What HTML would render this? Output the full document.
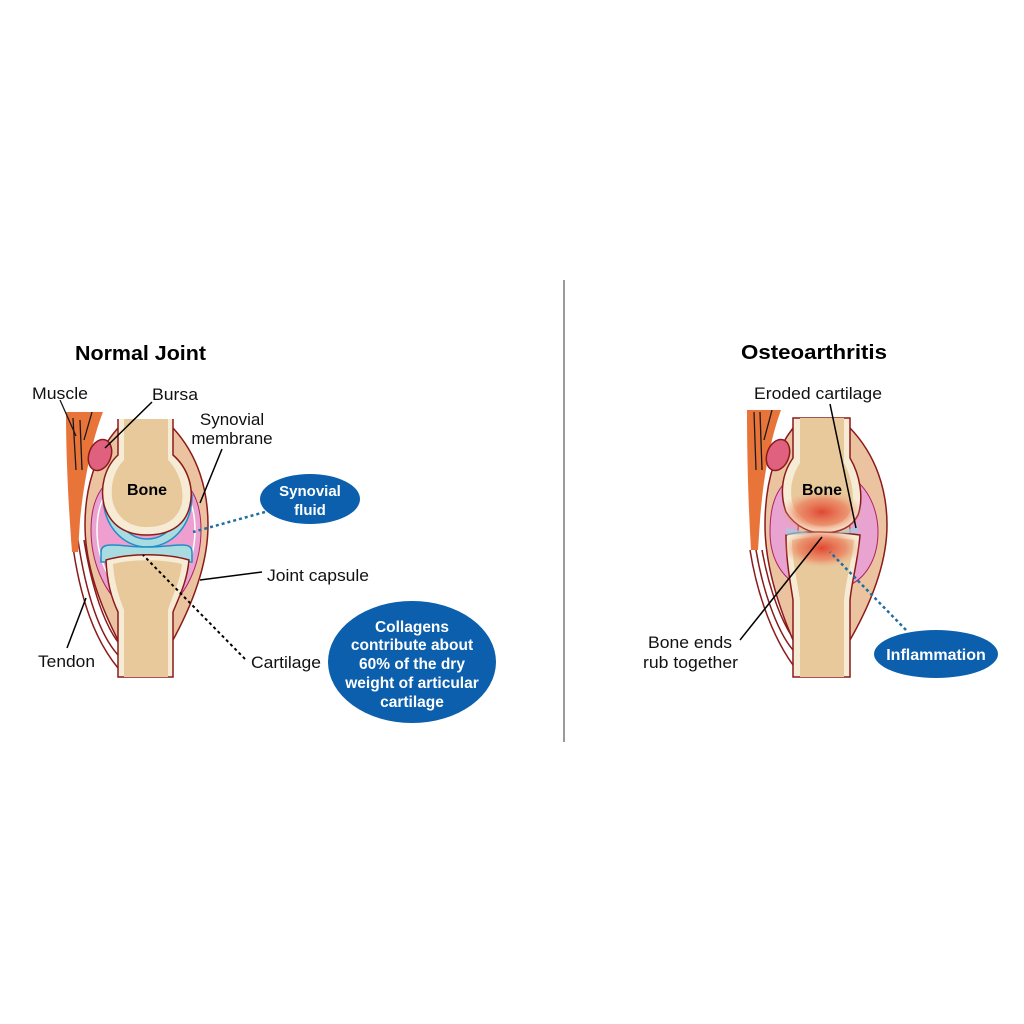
<!DOCTYPE html>
<html><head><meta charset="utf-8"><style>
html,body{margin:0;padding:0;background:#fff}
svg{display:block}
text{font-family:"Liberation Sans",Arial,sans-serif}
</style></head><body>
<svg width="1024" height="1024" viewBox="0 0 1024 1024">
<defs>
<radialGradient id="glow" cx="50%" cy="50%" r="50%">
<stop offset="0" stop-color="#e0402c" stop-opacity="0.95"/>
<stop offset="0.6" stop-color="#eb7a58" stop-opacity="0.7"/>
<stop offset="1" stop-color="#f2b48e" stop-opacity="0"/>
</radialGradient>
</defs>
<rect width="1024" height="1024" fill="#fff"/>
<line x1="564" y1="280" x2="564" y2="742" stroke="#9a9a9a" stroke-width="2"/>

<text x="75" y="360" font-size="20" font-weight="bold" textLength="131" lengthAdjust="spacingAndGlyphs">Normal Joint</text>
<text x="741" y="359" font-size="20" font-weight="bold" textLength="146" lengthAdjust="spacingAndGlyphs">Osteoarthritis</text>

<!-- LEFT JOINT -->
<g stroke="#8b1a1a" stroke-width="1.5">
<path d="M72 540 C80 600 95 640 118 668" fill="none"/>
<path d="M78 540 C86 595 100 635 118 655" fill="none"/>
<path d="M84 540 C92 590 105 625 118 642" fill="none"/>
<path d="M66 412 L103 412 C92 440 84 480 80 520 L78 552 L72 552 C68 500 66 450 66 412Z" fill="#e8743a" stroke="none"/>
<path d="M118 428 C94 455 85 490 85 525 C85 565 100 605 118 640 L173 640 C192 605 208 565 208 525 C208 490 198 455 173 428Z" fill="#ebc3a0"/>
<path d="M116 476 C98 486 91 505 91 530 C91 562 104 590 120 604 L172 604 C188 590 201 562 201 530 C201 505 194 486 176 476Z" fill="#e8a3d0" stroke="#b02060" stroke-width="1"/>
<path d="M117 483 C103 492 97 508 97 530 C97 557 108 580 122 594 L170 594 C184 580 195 557 195 530 C195 508 189 492 175 483Z" fill="#ee9fcf" stroke="#fff" stroke-width="1.5"/>
<path d="M103 495 C103 527 124 547 147 547 C171 547 192 527 192 495 L182 495 C182 522 166 539 147 539 C129 539 113 522 113 495Z" fill="#a8dce0" stroke="#1e8fc8" stroke-width="1.5"/>
<path d="M118 419 L118 455 C104 468 100 488 104 505 C110 525 125 535 147 535 C170 535 186 525 190 505 C194 488 188 468 173 455 L173 419Z" fill="#f6ecd6" stroke="none"/>
<path d="M118 419 L118 455 C104 468 100 488 104 505 C110 525 125 535 147 535 C170 535 186 525 190 505 C194 488 188 468 173 455 L173 419" fill="none"/>
<path d="M124 419 L124 460 C112 472 110 490 113 503 C118 519 130 527 147 527 C166 527 178 519 182 503 C184 490 180 472 168 460 L168 419Z" fill="#e8c99c" stroke="none"/>
<path d="M101 552 C101 540 120 547 147 547 C175 547 192 540 192 552 L192 562 L101 562Z" fill="#a8dce0" stroke="#1e8fc8" stroke-width="1.5"/>
<path d="M106 560 C130 553 165 553 189 560 C187 582 179 597 173 612 L173 677 L118 677 L118 612 C111 597 107 582 106 560Z" fill="#f6ecd6"/>
<path d="M113 564 C132 559 162 559 182 564 C180 582 172 597 168 610 L168 677 L124 677 L124 610 C119 597 114 582 113 564Z" fill="#e8c99c" stroke="none"/>
<ellipse cx="100" cy="455" rx="11" ry="16" transform="rotate(20 100 455)" fill="#e06080"/>
</g>
<g stroke="#1a1a1a" stroke-width="1.3" fill="none">
<path d="M60 400 L76 436"/><path d="M73 418 L76 470"/><path d="M80 420 L82 470"/><path d="M92 412 L84 440"/>
</g>
<text x="147" y="495" font-size="16" font-weight="bold" text-anchor="middle">Bone</text>

<g stroke="#000" stroke-width="1.5" fill="none">
<path d="M152 402 L105 448"/>
<path d="M222 449 L200 503"/>
<path d="M262 572 L200 580"/>
<path d="M67 648 L86 598"/>
</g>
<path d="M245 659 L143 555" stroke="#000" stroke-width="2" stroke-dasharray="3 3"/>
<path d="M265 512 L193 532" stroke="#1e6fa0" stroke-width="2.5" stroke-dasharray="3 3"/>

<g font-size="17" fill="#111">
<text x="32" y="399" textLength="56" lengthAdjust="spacingAndGlyphs">Muscle</text>
<text x="152" y="400" textLength="46" lengthAdjust="spacingAndGlyphs">Bursa</text>
<text x="232" y="425" text-anchor="middle">Synovial</text>
<text x="232" y="444" text-anchor="middle">membrane</text>
<text x="267" y="581" textLength="102" lengthAdjust="spacingAndGlyphs">Joint capsule</text>
<text x="251" y="668" textLength="70" lengthAdjust="spacingAndGlyphs">Cartilage</text>
<text x="38" y="667" textLength="57" lengthAdjust="spacingAndGlyphs">Tendon</text>
</g>

<ellipse cx="310" cy="499" rx="50" ry="25" fill="#0b5fad"/>
<text x="310" y="496" font-size="15" font-weight="bold" fill="#fff" text-anchor="middle">Synovial</text>
<text x="310" y="515" font-size="15" font-weight="bold" fill="#fff" text-anchor="middle">fluid</text>

<ellipse cx="412" cy="662" rx="84" ry="61" fill="#0b5fad"/>
<g font-size="15.5" font-weight="bold" fill="#fff" text-anchor="middle">
<text x="412" y="632">Collagens</text>
<text x="412" y="650">contribute about</text>
<text x="412" y="669">60% of the dry</text>
<text x="412" y="688">weight of articular</text>
<text x="412" y="707">cartilage</text>
</g>

<!-- RIGHT JOINT -->
<g stroke="#8b1a1a" stroke-width="1.5">
<path d="M750 550 C758 600 775 640 793 665" fill="none"/>
<path d="M756 550 C764 598 780 635 793 650" fill="none"/>
<path d="M762 550 C770 595 784 625 793 638" fill="none"/>
<path d="M747 410 L781 410 C770 440 763 480 760 520 L758 550 L751 550 C748 500 747 450 747 410Z" fill="#e8743a" stroke="none"/>
<path d="M793 428 C772 455 765 490 765 525 C765 565 778 605 793 640 L850 640 C870 605 887 565 887 525 C887 490 876 455 850 428Z" fill="#ebc3a0"/>
<path d="M790 478 C772 492 770 515 770 532 C770 556 780 575 796 584 L800 478Z" fill="#e8a3d0" stroke="#b02060" stroke-width="1"/>
<path d="M853 478 C872 492 878 515 878 532 C878 556 868 575 852 584 L848 478Z" fill="#e8a3d0" stroke="#b02060" stroke-width="1"/>
<path d="M793 418 L793 458 C781 475 780 495 786 512 C796 528 812 533 822 533 C840 533 852 527 858 515 C864 498 860 475 850 458 L850 418Z" fill="#f6ecd6"/>
<path d="M800 418 L800 463 C790 478 789 495 794 508 C804 522 813 526 822 526 C838 526 847 520 851 510 C855 495 852 478 844 463 L844 418Z" fill="#e8c99c" stroke="none"/>
<path d="M786 535 C800 530 840 532 860 535 C858 560 852 580 850 600 L850 677 L793 677 L793 600 C790 580 786 560 786 535Z" fill="#f6ecd6"/>
<path d="M792 540 C805 537 838 537 854 540 C852 560 846 580 844 600 L844 677 L800 677 L800 600 C797 580 792 560 792 540Z" fill="#e8c99c" stroke="none"/>
<ellipse cx="778" cy="455" rx="11" ry="16" transform="rotate(20 778 455)" fill="#e06080"/>
</g>
<path d="M786 528 C800 530 810 534 822 534 C840 534 852 528 858 525 L858 533 L786 535Z" fill="#9ecfe0" opacity="0.7"/>
<ellipse cx="822" cy="512" rx="42" ry="22" fill="url(#glow)"/>
<ellipse cx="822" cy="548" rx="40" ry="20" fill="url(#glow)"/>
<g stroke="#1a1a1a" stroke-width="1.3" fill="none">
<path d="M754 412 L756 470"/><path d="M760 412 L762 470"/><path d="M772 410 L764 440"/>
</g>
<text x="822" y="495" font-size="16" font-weight="bold" text-anchor="middle">Bone</text>
<g stroke="#000" stroke-width="1.5" fill="none">
<path d="M830 404 L856 528"/>
<path d="M740 640 L822 537"/>
</g>
<path d="M906 630 L830 552" stroke="#1e6fa0" stroke-width="2.5" stroke-dasharray="3 3"/>
<g font-size="17" fill="#111">
<text x="754" y="399" textLength="128" lengthAdjust="spacingAndGlyphs">Eroded cartilage</text>
<text x="648" y="648" textLength="84" lengthAdjust="spacingAndGlyphs">Bone ends</text>
<text x="643" y="668" textLength="95" lengthAdjust="spacingAndGlyphs">rub together</text>
</g>
<ellipse cx="936" cy="654" rx="62" ry="24" fill="#0b5fad"/>
<text x="936" y="660" font-size="16" font-weight="bold" fill="#fff" text-anchor="middle">Inflammation</text>
</svg>
</body></html>
